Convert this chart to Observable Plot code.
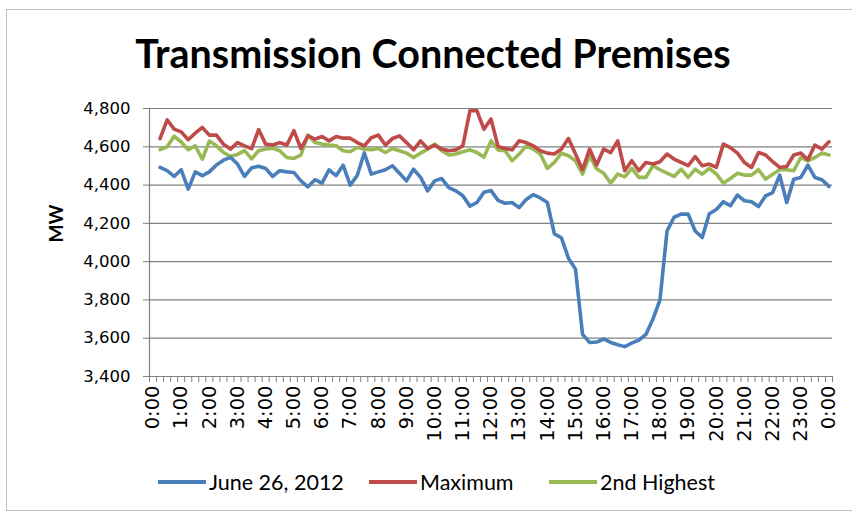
<!DOCTYPE html>
<html>
<head>
<meta charset="utf-8">
<script src="https://cdn.jsdelivr.net/npm/d3@7"></script>
<script src="https://cdn.jsdelivr.net/npm/@observablehq/plot@0.6"></script>
<style>
  html, body { margin: 0; padding: 0; background: #fff; }
  #wrap { position: relative; width: 852px; height: 515px; overflow: hidden; background: #fff; }
  #frame { position: absolute; left: 6px; top: 9px; width: 860px; height: 502px; border: 1px solid #bfbfbf; box-sizing: border-box; }
  #title { position: absolute; left: 0; top: 29px; width: 866px; text-align: center; font-family: Lato, "Open Sans", sans-serif; font-weight: bold; font-size: 39.5px; color: #000; }
  #chart { position: absolute; left: 0; top: 0; }
  .leg { position: absolute; top: 469px; font-family: Lato, "Open Sans", sans-serif; font-size: 21.5px; color: #000; display: flex; align-items: center; }
  .sw { display: inline-block; width: 48px; height: 4px; margin-right: 3px; }
</style>
</head>
<body>
<div id="wrap">
  <div id="frame"></div>
  <div id="title">Transmission Connected Premises</div>
  <div id="chart"></div>
  <div class="leg" style="left:158px"><span class="sw" style="background:#4A7EBB"></span>June 26, 2012</div>
  <div class="leg" style="left:369px"><span class="sw" style="background:#BE4B48"></span>Maximum</div>
  <div class="leg" style="left:549px"><span class="sw" style="background:#98B954"></span>2nd Highest</div>
</div>
<script>
// Hour tick labels (one every 4 quarter-hour slots, slot 0 .. slot 96)
const hourLabels = ["0:00","1:00","2:00","3:00","4:00","5:00","6:00","7:00","8:00","9:00","10:00","11:00",
  "12:00","13:00","14:00","15:00","16:00","17:00","18:00","19:00","20:00","21:00","22:00","23:00","0:00"];
const yTicks = [3400, 3600, 3800, 4000, 4200, 4400, 4600, 4800];

// Quarter-hour values, 0:15 .. 24:00 (MW)
const june26 = [4492,4475,4445,4480,4379,4469,4449,4469,4505,4530,4545,4510,4445,4490,4498,4487,
  4445,4475,4469,4466,4422,4391,4428,4410,4480,4449,4504,4400,4450,4568,4457,4469,
  4480,4501,4462,4422,4483,4440,4370,4422,4434,4387,4370,4344,4290,4309,4362,4372,
  4320,4305,4309,4282,4325,4350,4333,4309,4145,4125,4018,3961,3620,3578,3580,3596,
  3578,3566,3556,3575,3590,3620,3700,3800,4160,4232,4248,4248,4160,4126,4250,4272,
  4313,4292,4348,4318,4313,4288,4344,4361,4452,4309,4431,4440,4504,4440,4428,4393];
const maximum = [4643,4741,4692,4678,4637,4671,4701,4661,4661,4614,4588,4622,4605,4590,4690,4614,
  4609,4622,4609,4684,4591,4657,4640,4654,4631,4654,4645,4645,4622,4605,4647,4661,
  4609,4643,4657,4622,4584,4631,4591,4609,4588,4579,4584,4605,4788,4788,4692,4745,
  4602,4591,4584,4631,4622,4605,4579,4567,4562,4588,4643,4562,4480,4588,4505,4588,
  4570,4631,4475,4527,4475,4518,4510,4522,4562,4536,4518,4501,4549,4501,4510,4492,
  4614,4596,4567,4518,4492,4570,4557,4522,4492,4497,4557,4567,4532,4609,4588,4626];
const secondHighest = [4585,4600,4655,4625,4585,4605,4535,4630,4605,4570,4550,4560,4580,4537,4579,4588,
  4592,4579,4544,4539,4557,4661,4622,4614,4609,4605,4579,4574,4596,4588,4585,4591,
  4570,4591,4579,4567,4544,4567,4588,4614,4579,4557,4562,4574,4584,4570,4546,4631,
  4584,4579,4527,4562,4605,4588,4562,4487,4518,4567,4553,4527,4457,4553,4485,4462,
  4410,4457,4443,4487,4440,4440,4501,4480,4462,4445,4483,4440,4483,4457,4487,4458,
  4410,4434,4462,4452,4452,4480,4431,4457,4480,4480,4475,4544,4527,4544,4567,4557];

const rows = (arr) => arr.map((v, k) => ({slot: k + 1, v}));
const labelSlots = hourLabels.map((_, k) => k * 4);
const boundaries = d3.range(0, 98).map(k => k - 0.5);
const gridColor = "#808080";
const tickFont = "'DejaVu Sans', Verdana, sans-serif";

const chart = Plot.plot({
  width: 852,
  height: 460,
  marginLeft: 149,
  marginRight: 20,
  marginTop: 108,
  marginBottom: 84,
  x: {domain: [-0.5, 96.5]},
  y: {domain: [3400, 4800]},
  style: {fontFamily: tickFont, fontSize: "16px", color: "#000", background: "transparent", overflow: "visible"},
  marks: [
    Plot.gridY(yTicks, {stroke: gridColor, strokeOpacity: 1, strokeWidth: 1.2}),
    Plot.ruleX([-0.5], {stroke: gridColor, strokeWidth: 1.2}),
    Plot.axisY(yTicks, {tickSize: 6, tickPadding: 13, tickFormat: d3.format(","), stroke: gridColor, fill: "#000", fontSize: 16.5, fontFamily: tickFont, label: null}),
    Plot.axisX(boundaries, {tickSize: 6, tickFormat: () => "", stroke: gridColor, label: null}),
    Plot.axisX(labelSlots, {tickSize: 0, tickPadding: 9, tickRotate: -90, tickFormat: (d) => hourLabels[d / 4], fill: "#000", fontSize: 19.5, fontFamily: tickFont, label: null}),
    Plot.text(["MW"], {frameAnchor: "left", dx: -93, rotate: -90, fontWeight: "bold", fontSize: 19, fill: "#000", fontFamily: "Lato, sans-serif"}),
    Plot.line(rows(secondHighest), {x: "slot", y: "v", stroke: "#98B954", strokeWidth: 3.6, strokeLinejoin: "round", strokeLinecap: "round"}),
    Plot.line(rows(maximum), {x: "slot", y: "v", stroke: "#BE4B48", strokeWidth: 3.6, strokeLinejoin: "round", strokeLinecap: "round"}),
    Plot.line(rows(june26), {x: "slot", y: "v", stroke: "#4A7EBB", strokeWidth: 3.6, strokeLinejoin: "round", strokeLinecap: "round"})
  ]
});
document.getElementById("chart").appendChild(chart);
</script>
</body>
</html>
